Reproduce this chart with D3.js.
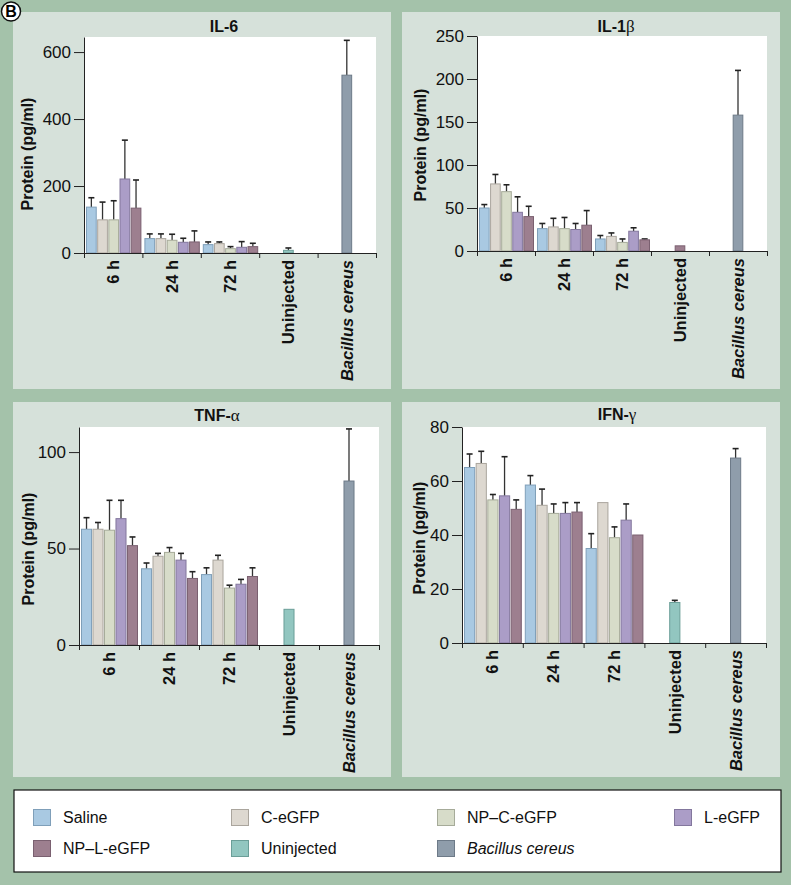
<!DOCTYPE html>
<html>
<head>
<meta charset="utf-8">
<script src="https://cdn.jsdelivr.net/npm/d3@7"></script>
<style>
  body { margin: 0; background: #a4c2aa; }
  svg { display: block; font-family: "Liberation Sans", Arial, sans-serif; }
  .axis path, .axis line { stroke: #222; }
  .axis text { font-size: 17px; fill: #111; font-family: "Liberation Sans", Arial, sans-serif; }
</style>
</head>
<body>
<svg width="791" height="885"></svg>
<script>
// categories
var groups = ["6 h", "24 h", "72 h", "Uninjected", "Bacillus cereus"];
var series = ["Saline", "C-eGFP", "NP\u2013C-eGFP", "L-eGFP", "NP\u2013L-eGFP"];
var legendItems = ["Saline", "C-eGFP", "NP\u2013C-eGFP", "L-eGFP", "NP\u2013L-eGFP", "Uninjected", "Bacillus cereus"];

// IL-6 : rows = 6 h, 24 h, 72 h ; cols = series. err = top of error bar
var il6Mean = [[137, 99, 99, 221, 134], [43, 43, 38, 32, 33], [25, 28, 13, 17, 19]];
var il6Err  = [[165, 152, 156, 337, 218], [57, 57, 56, 44, 66], [33, 33, 19, 34, 29]];
var il6Uninj = [8, 15];
var il6Bc = [531, 635];
var il6Ticks = [0, 200, 400, 600];

// IL-1b
var il1bMean = [[50, 78, 69, 45, 40], [26, 28, 26, 25, 30], [14, 17, 10, 23, 13]];
var il1bErr  = [[54, 89, 77, 63, 52], [32, 38, 39, 32, 47], [18, 21, 14, 27, 14]];
var il1bUninj = [6, 6];
var il1bBc = [158, 210];
var il1bTicks = [0, 50, 100, 150, 200, 250];

// TNF-a
var tnfMean = [[60, 60, 59.5, 65.5, 51.5], [39.5, 46, 48, 44, 34.5], [36.5, 44, 29.5, 31.5, 35.5]];
var tnfErr  = [[66, 63.5, 75, 75, 56], [42.5, 47.5, 50.5, 47.5, 38], [40, 46.5, 31, 34, 40]];
var tnfUninj = [18.5, 18.5];
var tnfBc = [85, 112];
var tnfTicks = [0, 50, 100];

// IFN-g
var ifnMean = [[65, 66.5, 53, 54.5, 49.5], [58.5, 51, 48, 48, 48.5], [35, 52, 39, 45.5, 40]];
var ifnErr  = [[70, 71, 55, 69, 53], [62, 57, 51.5, 52, 52], [40.5, 52, 43, 51.5, 40]];
var ifnUninj = [15, 15.8];
var ifnBc = [68.5, 72];
var ifnTicks = [0, 20, 40, 60, 80];

var fills = {
  "Saline": "#a9c9e2", "C-eGFP": "#ddd8d0", "NP\u2013C-eGFP": "#d7dcc9", "L-eGFP": "#ab9dc7",
  "NP\u2013L-eGFP": "#9d7f8f", "Uninjected": "#92c6c0", "Bacillus cereus": "#8f9dab"
};
var strokes = {
  "Saline": "#7f9fb9", "C-eGFP": "#aaa59d", "NP\u2013C-eGFP": "#a6ab99", "L-eGFP": "#83779d",
  "NP\u2013L-eGFP": "#7a6070", "Uninjected": "#6b9e98", "Bacillus cereus": "#6d7a88"
};

var panels = [
  { name: "IL-6", greek: "", mean: il6Mean, err: il6Err, uninj: il6Uninj, bc: il6Bc, ticks: il6Ticks, ymax: 645,
    uninjKey: "Uninjected",
    box: [13, 12, 378, 377], px: [84, 376], py: [37, 253], tx: 224, ty: 32, lx: 27, ly: 154 },
  { name: "IL-1", greek: "\u03b2", mean: il1bMean, err: il1bErr, uninj: il1bUninj, bc: il1bBc, ticks: il1bTicks, ymax: 250,
    uninjKey: "NP\u2013L-eGFP",
    box: [402, 12, 378, 377], px: [477, 767], py: [36, 251], tx: 616, ty: 32, lx: 420, ly: 145 },
  { name: "TNF-", greek: "\u03b1", mean: tnfMean, err: tnfErr, uninj: tnfUninj, bc: tnfBc, ticks: tnfTicks, ymax: 113,
    uninjKey: "Uninjected",
    box: [13, 402, 378, 375], px: [79, 379], py: [427, 645], tx: 217, ty: 421, lx: 28, ly: 549 },
  { name: "IFN-", greek: "\u03b3", mean: ifnMean, err: ifnErr, uninj: ifnUninj, bc: ifnBc, ticks: ifnTicks, ymax: 80,
    uninjKey: "Uninjected",
    box: [402, 402, 378, 375], px: [462, 766], py: [427, 643], tx: 617, ty: 420, lx: 419, ly: 538 }
];

var svg = d3.select("svg");
svg.append("rect").attr("width", 791).attr("height", 885).attr("fill", "#a4c2aa");

function drawPanel(p) {
  var g = svg.append("g");
  g.append("rect").attr("x", p.box[0]).attr("y", p.box[1]).attr("width", p.box[2]).attr("height", p.box[3])
    .attr("fill", "#d6e1da");
  g.append("rect").attr("x", p.px[0]).attr("y", p.py[0]).attr("width", p.px[1] - p.px[0]).attr("height", p.py[1] - p.py[0])
    .attr("fill", "#fff");

  var x = d3.scaleBand().domain(groups).range(p.px).padding(0);
  var y = d3.scaleLinear().domain([0, p.ymax]).range([p.py[1], p.py[0]]);
  var w = x.bandwidth();
  var xs = d3.scaleBand().domain(series).range([2, w - 1]).paddingInner(0.04);
  var bw = xs.bandwidth();

  // rows of bars
  var rows = [];
  p.mean.forEach(function(r, i) {
    r.forEach(function(v, j) {
      rows.push({ g: groups[i], s: series[j], x: x(groups[i]) + xs(series[j]), v: v, e: p.err[i][j], key: series[j] });
    });
  });
  rows.push({ g: "Uninjected", x: x("Uninjected") + (w - bw) / 2, v: p.uninj[0], e: p.uninj[1], key: p.uninjKey });
  rows.push({ g: "Bacillus cereus", x: x("Bacillus cereus") + (w - bw) / 2, v: p.bc[0], e: p.bc[1], key: "Bacillus cereus" });

  var eb = g.append("g").selectAll("g").data(rows).enter().append("g");
  eb.filter(function(d) { return d.e > d.v; }).append("line")
    .attr("x1", function(d) { return d.x + bw / 2; }).attr("x2", function(d) { return d.x + bw / 2; })
    .attr("y1", function(d) { return y(d.v); }).attr("y2", function(d) { return y(d.e); })
    .attr("stroke", "#333").attr("stroke-width", 1.3);
  eb.filter(function(d) { return d.e > d.v; }).append("line")
    .attr("x1", function(d) { return d.x + bw / 2 - 3; }).attr("x2", function(d) { return d.x + bw / 2 + 3; })
    .attr("y1", function(d) { return y(d.e); }).attr("y2", function(d) { return y(d.e); })
    .attr("stroke", "#222").attr("stroke-width", 1.6);

  g.append("g").selectAll("rect").data(rows).enter().append("rect")
    .attr("x", function(d) { return d.x + 0.5; })
    .attr("y", function(d) { return y(d.v); })
    .attr("width", bw - 1)
    .attr("height", function(d) { return y(0) - y(d.v); })
    .attr("fill", function(d) { return fills[d.key]; })
    .attr("stroke", function(d) { return strokes[d.key]; })
    .attr("stroke-width", 1);

  // axes
  g.append("g").attr("class", "axis").attr("transform", "translate(" + p.px[0] + ",0)")
    .call(d3.axisLeft(y).tickValues(p.ticks).tickSize(10).tickPadding(3).tickSizeOuter(0));
  var xb = d3.scaleLinear().domain([0, groups.length]).range(p.px);
  g.append("g").attr("class", "axis").attr("transform", "translate(0," + p.py[1] + ")")
    .call(d3.axisBottom(xb).tickValues(d3.range(groups.length + 1)).tickSize(5).tickSizeOuter(0).tickFormat(""));

  g.append("g").selectAll("text").data(groups).enter().append("text")
    .attr("transform", function(d) { return "translate(" + (x(d) + w / 2) + "," + (p.py[1] + 7) + ") rotate(-90)"; })
    .attr("text-anchor", "end").attr("dy", "0.36em")
    .attr("font-size", 16.5).attr("font-weight", "bold")
    .attr("font-style", function(d) { return d === "Bacillus cereus" ? "italic" : "normal"; })
    .attr("fill", "#111")
    .text(function(d) { return d; });

  // titles
  var t = g.append("text").attr("x", p.tx).attr("y", p.ty).attr("text-anchor", "middle")
    .attr("font-size", 16).attr("font-weight", "bold").attr("fill", "#111");
  t.append("tspan").text(p.name);
  if (p.greek) t.append("tspan").attr("font-family", "'Liberation Serif', serif").attr("font-weight", "normal")
    .attr("font-size", 17).text(p.greek);

  g.append("text").attr("transform", "translate(" + p.lx + "," + p.ly + ") rotate(-90)")
    .attr("text-anchor", "middle").attr("dy", "0.36em")
    .attr("font-size", 16).attr("font-weight", "bold").attr("fill", "#111")
    .text("Protein (pg/ml)");
}

panels.forEach(drawPanel);

// legend
var legendPos = [[33, 809], [231, 809], [437, 809], [674, 809], [33, 840], [231, 840], [437, 840]];
var lg = svg.append("g");
lg.append("rect").attr("x", 14).attr("y", 790).attr("width", 767).attr("height", 82)
  .attr("fill", "#fff").attr("stroke", "#111").attr("stroke-width", 1.2);
var li = lg.selectAll("g.item").data(legendItems).enter().append("g")
  .attr("transform", function(d, i) { return "translate(" + legendPos[i][0] + "," + legendPos[i][1] + ")"; });
li.append("rect").attr("x", 0.5).attr("y", 0.5).attr("width", 17).attr("height", 16)
  .attr("fill", function(d) { return fills[d]; })
  .attr("stroke", function(d) { return strokes[d]; });
li.append("text").attr("x", 30).attr("y", 14)
  .attr("font-size", 16).attr("fill", "#111")
  .attr("font-style", function(d) { return d === "Bacillus cereus" ? "italic" : "normal"; })
  .text(function(d) { return d; });

// panel letter
svg.append("circle").attr("cx", 11).attr("cy", 11.5).attr("r", 9.5).attr("fill", "#fff").attr("stroke", "#111").attr("stroke-width", 1.5);
svg.append("text").attr("x", 11).attr("y", 17).attr("text-anchor", "middle")
  .attr("font-size", 16).attr("font-weight", "bold").text("B");
</script>
</body>
</html>
